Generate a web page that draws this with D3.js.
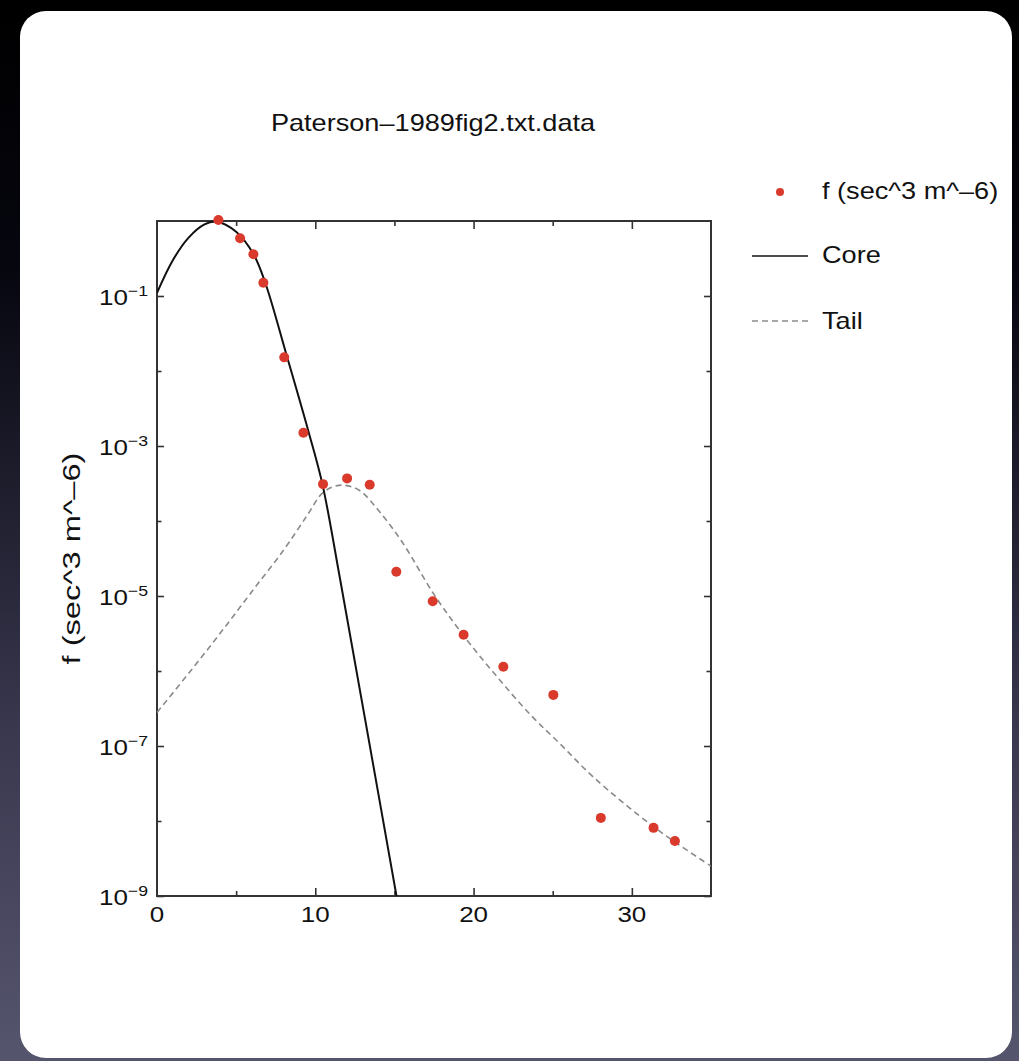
<!DOCTYPE html>
<html>
<head>
<meta charset="utf-8">
<script src="https://cdn.jsdelivr.net/npm/d3@7"></script>
<style>
  html, body { margin: 0; padding: 0; background: #000; }
  svg { display: block; }
  text { font-family: "Liberation Sans", Arial, sans-serif; fill: #111; }
</style>
</head>
<body>
<div id="chart"></div>
<script>
// measured points
var pointV = [3.88, 5.25, 6.09, 6.72, 8.04, 9.25, 10.49, 12.01, 13.44, 15.12, 17.42, 19.37, 21.88, 25.04, 28.04, 31.37, 32.72];
var pointF = [1.03, 0.59, 0.36, 0.15, 0.0152, 1.5e-3, 3.1e-4, 3.7e-4, 3.05e-4, 2.1e-5, 8.5e-6, 3.05e-6, 1.14e-6, 4.8e-7, 1.1e-8, 8.1e-9, 5.4e-9];

// core curve
var coreV = [0, 1, 2, 3, 3.75, 5, 6.1, 6.85, 8.23, 9.6, 10.45, 11.58, 13.16, 15.13];
var coreF = [0.11, 0.30, 0.60, 0.90, 0.98, 0.72, 0.36, 0.148, 0.0151, 1.48e-3, 3.1e-4, 1.62e-5, 2.2e-7, 1e-9];

// tail curve
var tailV = [0, 2, 4, 6, 8, 9.5, 10.4, 11.1, 11.8, 12.8, 14, 15.5, 17.5, 19.4, 21.5, 23.6, 25.5, 27.6, 31.4, 35];
var tailF = [2.8e-7, 9.3e-7, 3.2e-6, 1.15e-5, 4.1e-5, 1.2e-4, 2.3e-4, 2.85e-4, 3.0e-4, 2.55e-4, 1.38e-4, 5.2e-5, 1.05e-5, 2.9e-6, 8.3e-7, 2.6e-7, 1.05e-7, 3.8e-8, 8.3e-9, 2.5e-9];

var xMajor = [10, 20, 30];
var xLabels = [0, 10, 20, 30];
var xMinor = [5, 15, 25];
var yMajorExp = [-1, -3, -5, -7, -9];
var yMinorExp = [-2, -4, -6, -8];

var title = "Paterson\u20131989fig2.txt.data";
var yTitle = "f (sec^3 m^\u20136)";
var legendNames = ["f (sec^3 m^\u20136)", "Core", "Tail"];

function init() {
    var W = 1019, H = 1061;
    var svg = d3.select("#chart").append("svg")
        .attr("width", W)
        .attr("height", H);

    var defs = svg.append("defs");
    var grad = defs.append("linearGradient")
        .attr("id", "bg")
        .attr("x1", 0).attr("y1", 0).attr("x2", 0).attr("y2", 1);
    grad.append("stop").attr("offset", "0%").attr("stop-color", "#000000");
    grad.append("stop").attr("offset", "25%").attr("stop-color", "#06060f");
    grad.append("stop").attr("offset", "70%").attr("stop-color", "#3a3950");
    grad.append("stop").attr("offset", "100%").attr("stop-color", "#56556e");

    svg.append("rect").attr("width", W).attr("height", H).attr("fill", "url(#bg)");
    svg.append("rect")
        .attr("x", 20).attr("y", 11)
        .attr("width", 992).attr("height", 1047)
        .attr("rx", 26).attr("ry", 26)
        .attr("fill", "#ffffff");

    var left = 157, top = 221, right = 711, bottom = 896;

    var x = d3.scaleLinear().domain([0, 35]).range([left, right]);
    var y = d3.scaleLog().domain([1e-9, 1]).range([bottom, top]);

    defs.append("clipPath").attr("id", "plot")
        .append("rect")
        .attr("x", left).attr("y", top)
        .attr("width", right - left).attr("height", bottom - top);

    var sx = 1.18; // the reference text is a bit wide

    // axes: ticks point inward
    function tickAxis(axis, tf) {
        var g = svg.append("g").attr("transform", tf).call(axis);
        g.select(".domain").remove();
        g.selectAll("line").attr("stroke", "#333").attr("stroke-width", 1.6);
        g.selectAll("text").remove();
        return g;
    }
    tickAxis(d3.axisBottom(x).tickValues(xMajor).tickSize(-8), "translate(0," + bottom + ")");
    tickAxis(d3.axisBottom(x).tickValues(xMinor).tickSize(-5), "translate(0," + bottom + ")");
    tickAxis(d3.axisTop(x).tickValues(xMajor).tickSize(-8), "translate(0," + top + ")");
    tickAxis(d3.axisTop(x).tickValues(xMinor).tickSize(-5), "translate(0," + top + ")");

    var yMaj = yMajorExp.map(function(e) { return Math.pow(10, e); });
    var yMin = yMinorExp.map(function(e) { return Math.pow(10, e); });
    tickAxis(d3.axisLeft(y).tickValues(yMaj).tickSize(-7), "translate(" + left + ",0)");
    tickAxis(d3.axisLeft(y).tickValues(yMin).tickSize(-4.5), "translate(" + left + ",0)");
    tickAxis(d3.axisRight(y).tickValues(yMaj).tickSize(-7), "translate(" + right + ",0)");
    tickAxis(d3.axisRight(y).tickValues(yMin).tickSize(-4.5), "translate(" + right + ",0)");

    // frame
    svg.append("rect")
        .attr("x", left).attr("y", top)
        .attr("width", right - left).attr("height", bottom - top)
        .attr("fill", "none")
        .attr("stroke", "#333")
        .attr("stroke-width", 2);

    // tick labels
    svg.selectAll(".xlab").data(xLabels).enter().append("text")
        .attr("class", "xlab")
        .attr("transform", function(d) { return "translate(" + x(d) + "," + (bottom + 26) + ") scale(" + sx + ",1)"; })
        .attr("text-anchor", "middle")
        .style("font-size", "22px")
        .text(function(d) { return d; });

    var ylab = svg.selectAll(".ylab").data(yMajorExp).enter().append("text")
        .attr("class", "ylab")
        .attr("transform", function(d) { return "translate(148," + (y(Math.pow(10, d)) + 9) + ") scale(" + sx + ",1)"; })
        .attr("text-anchor", "end")
        .style("font-size", "22px");
    ylab.append("tspan").text("10");
    ylab.append("tspan")
        .attr("dy", -9)
        .style("font-size", "15px")
        .text(function(d) { return "\u2212" + Math.abs(d); });

    // title and axis title
    svg.append("text")
        .attr("transform", "translate(433," + 131 + ") scale(" + sx + ",1)")
        .attr("text-anchor", "middle")
        .style("font-size", "23px")
        .text(title);

    svg.append("text")
        .attr("transform", "translate(80," + ((top + bottom) / 2) + ") rotate(-90)")
        .attr("text-anchor", "middle")
        .attr("textLength", 212)
        .attr("lengthAdjust", "spacingAndGlyphs")
        .style("font-size", "23px")
        .text(yTitle);

    // curves
    var plot = svg.append("g").attr("clip-path", "url(#plot)");
    var line = d3.line()
        .x(function(d) { return x(d[0]); })
        .y(function(d) { return y(d[1]); })
        .curve(d3.curveCatmullRom.alpha(0.5));

    plot.append("path")
        .datum(d3.zip(tailV, tailF))
        .attr("d", line)
        .attr("fill", "none")
        .attr("stroke", "#8a8a8a")
        .attr("stroke-width", 1.6)
        .attr("stroke-dasharray", "6,4");

    plot.append("path")
        .datum(d3.zip(coreV, coreF))
        .attr("d", line)
        .attr("fill", "none")
        .attr("stroke", "#111")
        .attr("stroke-width", 2);

    svg.selectAll(".pt").data(d3.zip(pointV, pointF)).enter().append("circle")
        .attr("class", "pt")
        .attr("cx", function(d) { return x(d[0]); })
        .attr("cy", function(d) { return y(d[1]); })
        .attr("r", 5)
        .attr("fill", "#d93a2c");

    // legend
    var lg = svg.append("g");
    lg.append("circle").attr("cx", 780).attr("cy", 192).attr("r", 4).attr("fill", "#d93a2c");
    lg.append("line").attr("x1", 752).attr("x2", 808).attr("y1", 256).attr("y2", 256)
        .attr("stroke", "#111").attr("stroke-width", 1.6);
    lg.append("line").attr("x1", 752).attr("x2", 808).attr("y1", 321).attr("y2", 321)
        .attr("stroke", "#8a8a8a").attr("stroke-width", 1.4).attr("stroke-dasharray", "6,4");
    var legY = [199, 263, 329];
    lg.selectAll("text").data(legendNames).enter().append("text")
        .attr("transform", function(d, i) { return "translate(822," + legY[i] + ") scale(" + sx + ",1)"; })
        .style("font-size", "23px")
        .text(function(d) { return d; });
}
window.onload = init;
</script>
</body>
</html>
